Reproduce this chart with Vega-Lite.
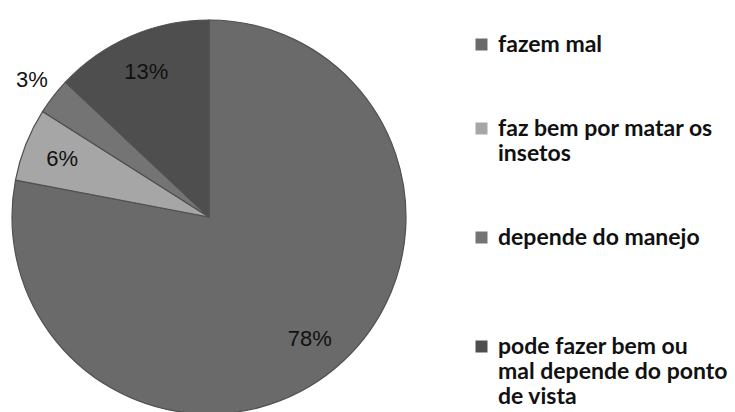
{
  "$schema": "https://vega.github.io/schema/vega-lite/v6.json",
  "width": 414,
  "height": 432,
  "padding": 0,
  "autosize": {"type": "pad"},
  "background": "white",
  "data": {
    "values": [
      {"categoria": "fazem mal", "pct": 78, "ordem": 1, "rotulo": "78%"},
      {"categoria": "faz bem por matar os insetos", "pct": 6, "ordem": 2, "rotulo": "6%"},
      {"categoria": "depende do manejo", "pct": 3, "ordem": 3, "rotulo": "3%"},
      {"categoria": "pode fazer bem ou mal depende do ponto de vista", "pct": 13, "ordem": 4, "rotulo": "13%"}
    ]
  },
  "encoding": {
    "theta": {"field": "pct", "type": "quantitative", "stack": true},
    "order": {"field": "ordem", "type": "quantitative"},
    "color": {
      "field": "categoria",
      "type": "nominal",
      "scale": {
        "domain": ["fazem mal", "faz bem por matar os insetos", "depende do manejo", "pode fazer bem ou mal depende do ponto de vista"],
        "range": ["#6a6a6a", "#a6a6a6", "#747474", "#4e4e4e"]
      },
      "legend": {
        "orient": "none",
        "legendX": 468,
        "legendY": 32,
        "title": null,
        "symbolType": "square",
        "symbolSize": 144,
        "symbolStrokeWidth": 0,
        "labelFont": "Lato",
        "labelFontSize": 23,
        "labelFontWeight": "bold",
        "labelColor": "#111111",
        "labelLimit": 400,
        "labelOffset": 5,
        "labelBaseline": "middle",
        "rowPadding": 60,
        "labelExpr": "datum.label == 'faz bem por matar os insetos' ? ['faz bem por matar os', 'insetos'] : datum.label == 'depende do manejo' ? ['depende do manejo', ''] : datum.label == 'pode fazer bem ou mal depende do ponto de vista' ? ['pode fazer bem ou', 'mal depende do ponto', 'de vista'] : datum.label"
      }
    }
  },
  "layer": [
    {
      "mark": {"type": "arc", "outerRadius": 197, "stroke": "#505050", "strokeWidth": 1.2}
    },
    {
      "mark": {"type": "text", "radius": 158, "fontSize": 22, "font": "Liberation Sans", "color": "#111111"},
      "encoding": {
        "text": {"condition": {"test": "datum.pct >= 5", "field": "rotulo"}, "value": ""},
        "color": {"value": "#111111"}
      }
    },
    {
      "mark": {"type": "text", "radius": 224, "fontSize": 22, "font": "Liberation Sans", "color": "#111111"},
      "encoding": {
        "text": {"condition": {"test": "datum.pct < 5", "field": "rotulo"}, "value": ""},
        "color": {"value": "#111111"}
      }
    }
  ],
  "config": {"view": {"stroke": null}}
}
